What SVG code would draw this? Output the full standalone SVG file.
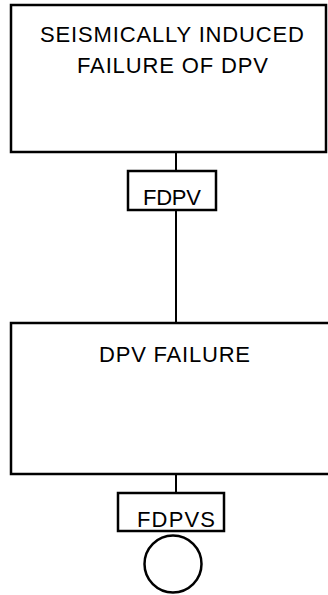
<svg xmlns="http://www.w3.org/2000/svg" width="328" height="595" viewBox="0 0 328 595">
<style>
.box{fill:#fff;stroke:#000;stroke-width:2.5}
.lbl{fill:#000;font-family:"Liberation Sans",Arial,sans-serif;font-size:22px;text-anchor:middle}
.con{stroke:#000;stroke-width:2;fill:none}
</style>
<rect width="328" height="595" fill="#fff"/>
<g id="connectors">
<line class="con" x1="176" y1="152" x2="176" y2="171"/>
<line class="con" x1="176" y1="210" x2="176" y2="323"/>
<line class="con" x1="176" y1="474" x2="176" y2="493"/>
</g>
<g id="node-seismic">
<rect class="box" x="11" y="5" width="315" height="147"/>
<text class="lbl" x="172" y="42" textLength="264" lengthAdjust="spacing">SEISMICALLY INDUCED</text>
<text class="lbl" x="172.5" y="73" textLength="191" lengthAdjust="spacing">FAILURE OF DPV</text>
</g>
<g id="node-fdpv">
<rect class="box" x="128" y="171" width="88" height="39"/>
<text class="lbl" x="172" y="205" textLength="58" lengthAdjust="spacing">FDPV</text>
</g>
<g id="node-dpv-failure">
<rect class="box" x="11" y="323" width="330" height="151"/>
<text class="lbl" x="174.5" y="362" textLength="151" lengthAdjust="spacing">DPV FAILURE</text>
</g>
<g id="node-fdpvs">
<rect class="box" x="118" y="493" width="106" height="38"/>
<text class="lbl" x="176" y="527" textLength="78" lengthAdjust="spacing">FDPVS</text>
<circle class="box" cx="173" cy="564" r="28.5"/>
</g>
</svg>
